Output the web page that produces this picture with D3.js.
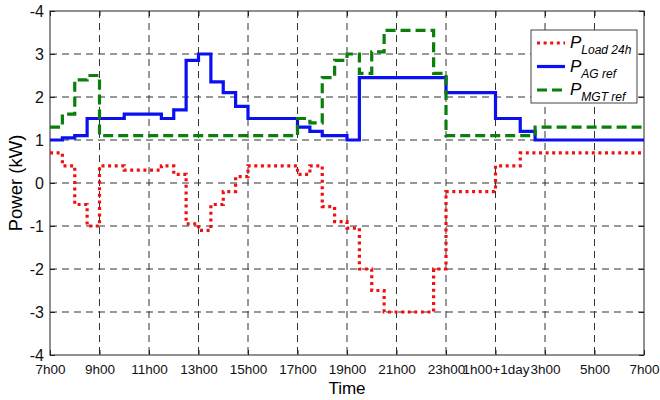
<!DOCTYPE html>
<html>
<head>
<meta charset="utf-8">
<script src="https://cdn.jsdelivr.net/npm/d3@7"></script>
<style>
  body { margin: 0; background: #fff; }
  svg { font-family: "Liberation Sans", Arial, sans-serif; }
</style>
</head>
<body>
<div id="chart"></div>
<script>
// x ticks, every 2 hours from 7h00 to 7h00 next day
const xTicks = [7, 9, 11, 13, 15, 17, 19, 21, 23, 25, 27, 29, 31];
const xTickLabels = ["7h00", "9h00", "11h00", "13h00", "15h00", "17h00", "19h00",
    "21h00", "23h00", "1h00+1day", "3h00", "5h00", "7h00"];
const yTicks = [4, 3, 2, 1, 0, -1, -2, -3, -4];
const yTickLabels = ["-4", "3", "2", "1", "0", "-1", "-2", "-3", "-4"];

// step series: start hour of each step and its value
const loadT = [7, 7.5, 8, 8.5, 9, 10, 11.5, 12, 12.5, 13, 13.5, 14, 14.5, 15, 17, 17.5,
    18, 18.5, 19, 19.5, 20, 20.5, 22.5, 23, 25, 26];
const loadV = [0.7, 0.4, -0.5, -1.0, 0.4, 0.3, 0.4, 0.2, -0.95, -1.1, -0.5, -0.2, 0.15, 0.4, 0.2, 0.4,
    -0.55, -0.9, -1.05, -2.0, -2.5, -3.0, -2.0, -0.2, 0.4, 0.7];

const agT = [7, 7.5, 8, 8.5, 10, 11.5, 12, 12.5, 13, 13.5, 14, 14.5, 15, 17, 17.5, 18,
    19, 19.5, 23, 25, 26, 26.6];
const agV = [1.0, 1.05, 1.1, 1.5, 1.6, 1.5, 1.7, 2.85, 3.0, 2.35, 2.1, 1.78, 1.5, 1.3, 1.2, 1.1,
    1.0, 2.45, 2.1, 1.5, 1.2, 1.0];

const mgtT = [7, 7.5, 8, 8.5, 9, 17, 17.5, 18, 18.5, 19, 19.5, 20, 20.5, 22.5, 23, 26.6];
const mgtV = [1.3, 1.6, 2.4, 2.5, 1.1, 1.5, 1.4, 2.45, 2.85, 3.0, 2.55, 3.05, 3.55, 2.55, 1.1, 1.3];

const endHour = 31;

const width = 660, height = 400;
const plotL = 50, plotR = 644, plotT = 11, plotB = 355;

const svg = d3.select("#chart").append("svg")
    .attr("width", width)
    .attr("height", height);

const x = d3.scaleLinear().domain([7, 31]).range([plotL, plotR]);
const y = d3.scaleLinear().domain([-4, 4]).range([plotB, plotT]);

// grid
svg.append("g").selectAll("line")
    .data(xTicks.slice(1, -1))
    .enter().append("line")
    .attr("x1", d => x(d)).attr("x2", d => x(d))
    .attr("y1", plotT).attr("y2", plotB)
    .attr("stroke", "#333").attr("stroke-width", 1)
    .attr("stroke-dasharray", "7,5");

svg.append("g").selectAll("line")
    .data(yTicks.slice(1, -1))
    .enter().append("line")
    .attr("x1", plotL).attr("x2", plotR)
    .attr("y1", d => y(d)).attr("y2", d => y(d))
    .attr("stroke", "#333").attr("stroke-width", 1)
    .attr("stroke-dasharray", "7,5");

// axes
const xAxis = d3.axisBottom(x)
    .tickValues(xTicks)
    .tickSize(-5)
    .tickPadding(9)
    .tickFormat((d, i) => xTickLabels[i]);

const gx = svg.append("g")
    .attr("transform", `translate(0,${plotB})`)
    .call(xAxis);

const yAxis = d3.axisLeft(y)
    .tickValues(yTicks)
    .tickSize(-5)
    .tickPadding(6)
    .tickFormat((d, i) => yTickLabels[i]);

const gy = svg.append("g")
    .attr("transform", `translate(${plotL},0)`)
    .call(yAxis);

// mirrored ticks on top and right
svg.append("g").attr("transform", `translate(0,${plotT})`)
    .call(d3.axisTop(x).tickValues(xTicks).tickSize(-5).tickFormat(""));
svg.append("g").attr("transform", `translate(${plotR},0)`)
    .call(d3.axisRight(y).tickValues(yTicks).tickSize(-5).tickFormat(""));

svg.selectAll(".domain").remove();
svg.selectAll(".tick line").attr("stroke", "#222");
gx.selectAll("text").style("font-size", "13.5px").attr("fill", "#111");
gy.selectAll("text").style("font-size", "16px").attr("fill", "#111").attr("dy", "0.36em");

// frame
svg.append("rect")
    .attr("x", plotL).attr("y", plotT)
    .attr("width", plotR - plotL).attr("height", plotB - plotT)
    .attr("fill", "none").attr("stroke", "#222").attr("stroke-width", 1);

// labels
svg.append("text")
    .attr("x", (plotL + plotR) / 2).attr("y", 394)
    .attr("text-anchor", "middle")
    .style("font-size", "17px")
    .text("Time");

svg.append("text")
    .attr("transform", `translate(22,${(plotT + plotB) / 2}) rotate(-90)`)
    .attr("text-anchor", "middle")
    .style("font-size", "18.5px")
    .text("Power (kW)");

// series
function stepPoints(ts, vs) {
    const pts = ts.map((t, i) => [t, vs[i]]);
    pts.push([endHour, vs[vs.length - 1]]);
    return pts;
}

const line = d3.line()
    .x(d => x(d[0]))
    .y(d => y(d[1]))
    .curve(d3.curveStepAfter);

const series = [
    { name: "Load 24h", pts: stepPoints(loadT, loadV), color: "#f01010", dash: "3,3.6" },
    { name: "AG ref", pts: stepPoints(agT, agV), color: "#0a10f0", dash: null },
    { name: "MGT ref", pts: stepPoints(mgtT, mgtV), color: "#0b7f0b", dash: "10,5" }
];

series.forEach(s => {
    svg.append("path")
        .datum(s.pts)
        .attr("d", line)
        .attr("fill", "none")
        .attr("stroke", s.color)
        .attr("stroke-width", 3.2)
        .attr("stroke-dasharray", s.dash);
});

// legend
const lg = svg.append("g");
lg.append("rect")
    .attr("x", 531).attr("y", 30)
    .attr("width", 106).attr("height", 73)
    .attr("fill", "#fff").attr("stroke", "#444").attr("stroke-width", 1);

series.forEach((s, i) => {
    const yy = 43 + i * 23.5;
    lg.append("line")
        .attr("x1", 537).attr("x2", 565)
        .attr("y1", yy).attr("y2", yy)
        .attr("stroke", s.color)
        .attr("stroke-width", 3.2)
        .attr("stroke-dasharray", s.dash);
    const t = lg.append("text")
        .attr("x", 570).attr("y", yy + 5)
        .style("font-size", "17px")
        .style("font-style", "italic");
    t.append("tspan").text("P");
    t.append("tspan")
        .attr("dy", 6)
        .style("font-size", "12px")
        .text(s.name);
});
</script>
</body>
</html>
